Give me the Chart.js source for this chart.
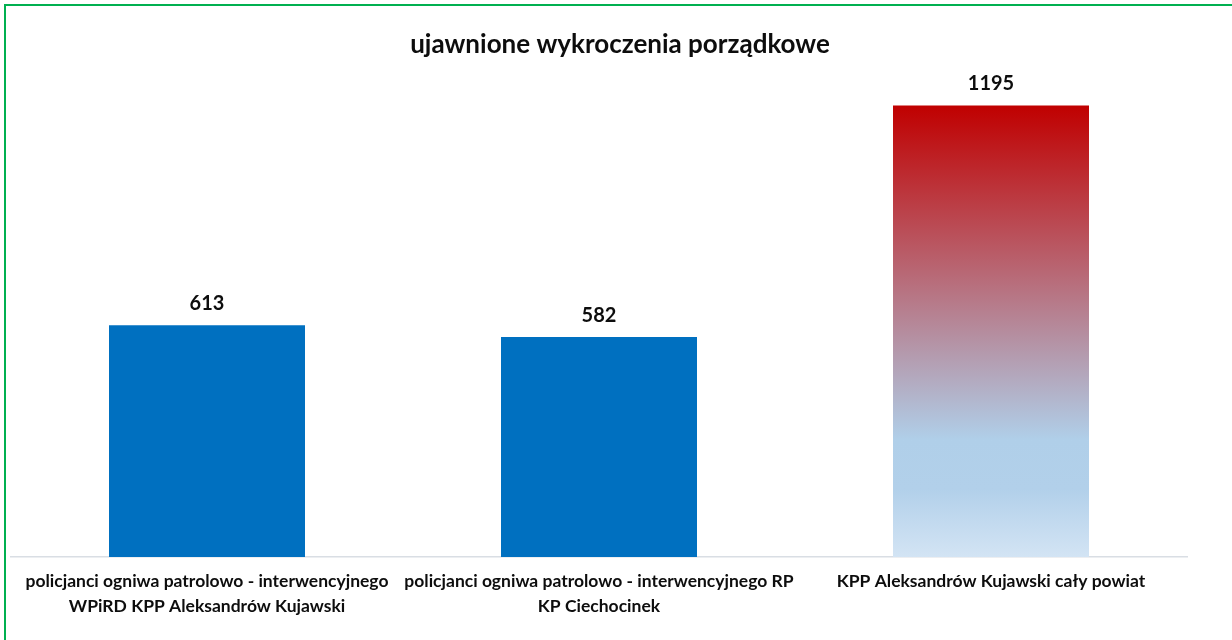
<!DOCTYPE html>
<html>
<head>
<meta charset="utf-8">
<script src="https://cdn.jsdelivr.net/npm/chart.js@4"></script>
<style>
  html, body { margin: 0; padding: 0; background: #fff; overflow: hidden; }
  #wrap { position: relative; width: 1232px; height: 640px; }
  #frame { position: absolute; left: 4px; top: 4px; width: 1260px; height: 700px; border: 2px solid #00B050; box-sizing: border-box; pointer-events: none; }
  canvas { position: absolute; left: 0; top: 0; }
</style>
</head>
<body>
<div id="wrap">
  <canvas id="c" width="1232" height="640"></canvas>
  <div id="frame"></div>
</div>
<script>
const chartTitle = 'ujawnione wykroczenia porządkowe';
const categories = [
  ['policjanci ogniwa patrolowo - interwencyjnego', 'WPiRD KPP Aleksandrów Kujawski'],
  ['policjanci ogniwa patrolowo - interwencyjnego RP', 'KP Ciechocinek'],
  ['KPP Aleksandrów Kujawski cały powiat']
];
const values = [613, 582, 1195];

const FONT = 'Lato, "Open Sans", sans-serif';

function barColor(ctx) {
  if (ctx.dataIndex !== 2) return '#0070C0';
  const chart = ctx.chart;
  const ca = chart.chartArea;
  if (!ca) return '#C00000';
  const yTop = chart.scales.y.getPixelForValue(values[2]);
  const g = chart.ctx.createLinearGradient(0, yTop, 0, ca.bottom);
  g.addColorStop(0, '#C00000');
  g.addColorStop(0.74, '#B0CFE9');
  g.addColorStop(0.85, '#B2D0EA');
  g.addColorStop(1, '#D3E4F4');
  return g;
}

const labelsPlugin = {
  id: 'labelsPlugin',
  afterDatasetsDraw(chart) {
    const ctx = chart.ctx;
    const meta = chart.getDatasetMeta(0);
    ctx.save();
    ctx.font = 'bold 20px ' + FONT;
    ctx.fillStyle = '#0D0D0D';
    ctx.textAlign = 'center';
    ctx.textBaseline = 'middle';
    meta.data.forEach((bar, i) => {
      ctx.fillText(String(values[i]), bar.x, bar.y - 22);
    });
    ctx.font = 'bold 26px ' + FONT;
    ctx.fillStyle = '#0D0D0D';
    ctx.fillText(chartTitle, 620, 45);
    ctx.restore();
  }
};

new Chart(document.getElementById('c'), {
  type: 'bar',
  data: {
    labels: categories,
    datasets: [{
      data: values,
      backgroundColor: barColor,
      borderWidth: 0,
      categoryPercentage: 1,
      barPercentage: 0.5
    }]
  },
  options: {
    responsive: false,
    animation: false,
    events: [],
    layout: { padding: { left: 11, right: 45, top: 28, bottom: 0 } },
    plugins: { legend: { display: false }, title: { display: false }, tooltip: { enabled: false } },
    scales: {
      y: { display: false, min: 0, max: 1400 },
      x: {
        afterFit(s) { s.height = 83; },
        grid: { display: false, drawTicks: false },
        border: { display: true, color: '#D9DEE4', width: 1.5 },
        ticks: {
          color: '#0D0D0D',
          padding: 12,
          maxRotation: 0,
          autoSkip: false,
          font: { family: FONT, weight: 'bold', size: 17.5, lineHeight: 1.43 }
        }
      }
    }
  },
  plugins: [labelsPlugin]
});
</script>
</body>
</html>
